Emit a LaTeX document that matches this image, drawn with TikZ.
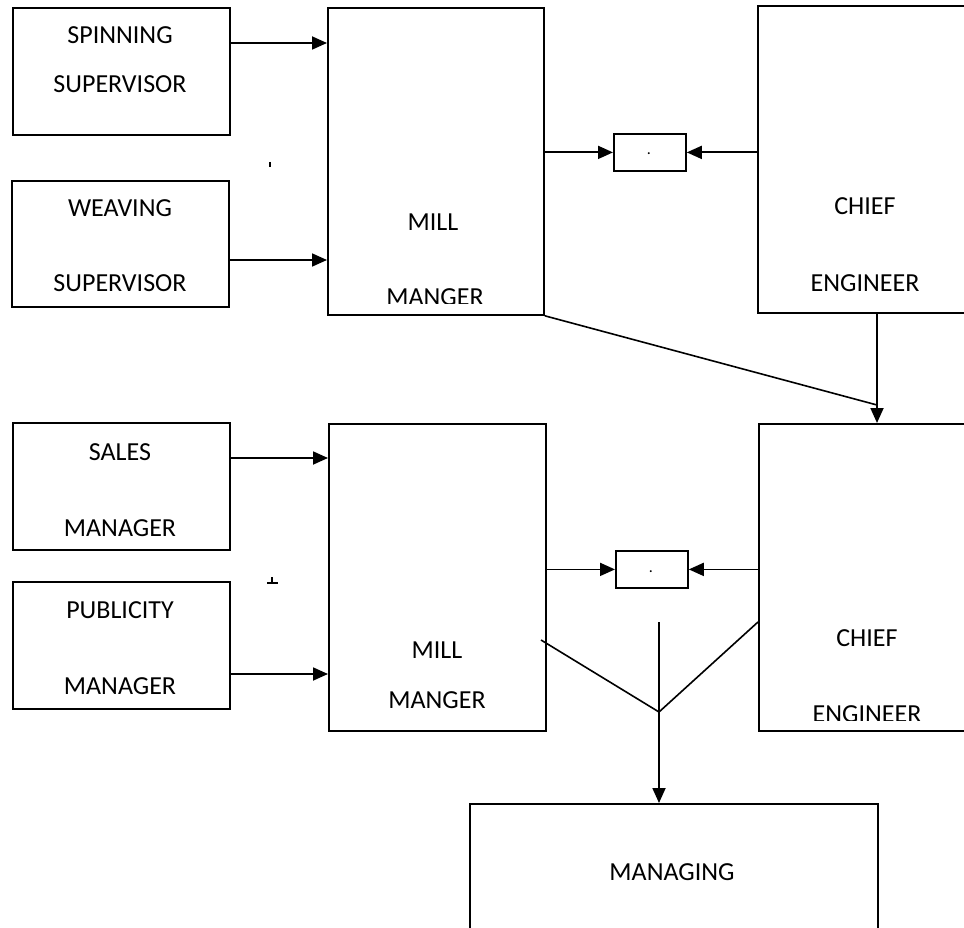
\documentclass[tikz,border=0pt]{standalone}
\usepackage{fontspec}
\setmainfont{Carlito}
\usetikzlibrary{arrows.meta}
\begin{document}
\begin{tikzpicture}[x=1pt,y=-1pt,
  box/.style={draw, line width=1.8pt, anchor=north west, inner sep=0pt},
  lbl/.style={font=\fontsize{26}{30}\selectfont, inner sep=0pt},
  dotlbl/.style={font=\fontsize{16}{18}\selectfont, inner sep=0pt},
  arr/.style={line width=1.8pt, -{Triangle[length=15pt,width=13pt]}},
  ln/.style={line width=1.6pt}]
\useasboundingbox (0,0) rectangle (964,928);
\clip (0,0) rectangle (964,928);
% boxes
\node[box, minimum width=217pt, minimum height=127pt] (spin) at (12,7) {};
\node[box, minimum width=217pt, minimum height=126pt] (weave) at (11,180) {};
\node[box, minimum width=216pt, minimum height=307pt] (mill1) at (327,7) {};
\node[box, minimum width=72pt, minimum height=37pt] (small1) at (613,133) {};
\node[box, minimum width=230pt, minimum height=307pt] (chief1) at (757,5) {};
\node[box, minimum width=217pt, minimum height=127pt] (sales) at (12,422) {};
\node[box, minimum width=217pt, minimum height=127pt] (pub) at (12,581) {};
\node[box, minimum width=217pt, minimum height=307pt] (mill2) at (328,423) {};
\node[box, minimum width=72pt, minimum height=37pt] (small2) at (615,550) {};
\node[box, minimum width=230pt, minimum height=307pt] (chief2) at (758,423) {};
\node[box, minimum width=408pt, minimum height=160pt] (mgr) at (469,803) {};
% labels
\node[lbl] (t1) at (120,35) {SPINNING};
\node[lbl] (t2) at (120,84) {SUPERVISOR};
\node[lbl] (t3) at (120,208) {WEAVING};
\node[lbl] (t4) at (120,283) {SUPERVISOR};
\node[lbl] (t5) at (433,222) {MILL};
\begin{scope}
  \clip (327,200) rectangle (543,303);
  \node[lbl] (t6) at (435,297) {MANGER};
\end{scope}
\node[lbl] (t7) at (865,206) {CHIEF};
\node[lbl] (t8) at (865,283) {ENGINEER};
\node[lbl] (t9) at (120,452) {SALES};
\node[lbl] (t10) at (120,528) {MANAGER};
\node[lbl] (t11) at (120,610) {PUBLICITY};
\node[lbl] (t12) at (120,686) {MANAGER};
\node[lbl] (t13) at (437,650) {MILL};
\node[lbl] (t14) at (437,700) {MANGER};
\node[lbl] (t15) at (867,638) {CHIEF};
\begin{scope}
  \clip (758,650) rectangle (964,720);
  \node[lbl] (t16) at (867,714) {ENGINEER};
\end{scope}
\node[lbl] (t17) at (672,872) {MANAGING};
\node[dotlbl] (d1) at (649,154) {.};
\node[dotlbl] (d2) at (651,572) {.};
% stray marks
\draw[line width=2pt] (270,162) -- (270,167);
\draw[line width=1.4pt] (267,583) -- (278,583);
\draw[line width=2pt] (272,577) -- (272,583);
% coordinates
\coordinate (y43) at (0,43);
\coordinate (y260) at (0,260);
\coordinate (y458) at (0,458);
\coordinate (y674) at (0,674);
\coordinate (x877) at (877,0);
\coordinate (j1) at (877,405);
\coordinate (m2e) at (541,640);
\coordinate (vj) at (659,712);
\coordinate (c2w) at (758,622);
\coordinate (vtop) at (659,622);
% connectors
\draw[arr] (spin.east |- y43) -- (mill1.west |- y43);
\draw[arr] (weave.east |- y260) -- (mill1.west |- y260);
\draw[arr] (mill1.east |- small1.west) -- (small1.west);
\draw[arr] (chief1.west |- small1.east) -- (small1.east);
\draw[arr] (chief1.south -| x877) -- (chief2.north -| x877);
\draw[ln] (mill1.south east) -- (j1);
\draw[arr] (sales.east |- y458) -- (mill2.west |- y458);
\draw[arr] (pub.east |- y674) -- (mill2.west |- y674);
\draw[arr] (mill2.east |- small2.west) -- (small2.west);
\draw[arr] (chief2.west |- small2.east) -- (small2.east);
\draw[ln] (m2e) -- (vj) -- (c2w);
\draw[arr] (vtop) -- (mgr.north -| vtop);
\end{tikzpicture}
\end{document}
